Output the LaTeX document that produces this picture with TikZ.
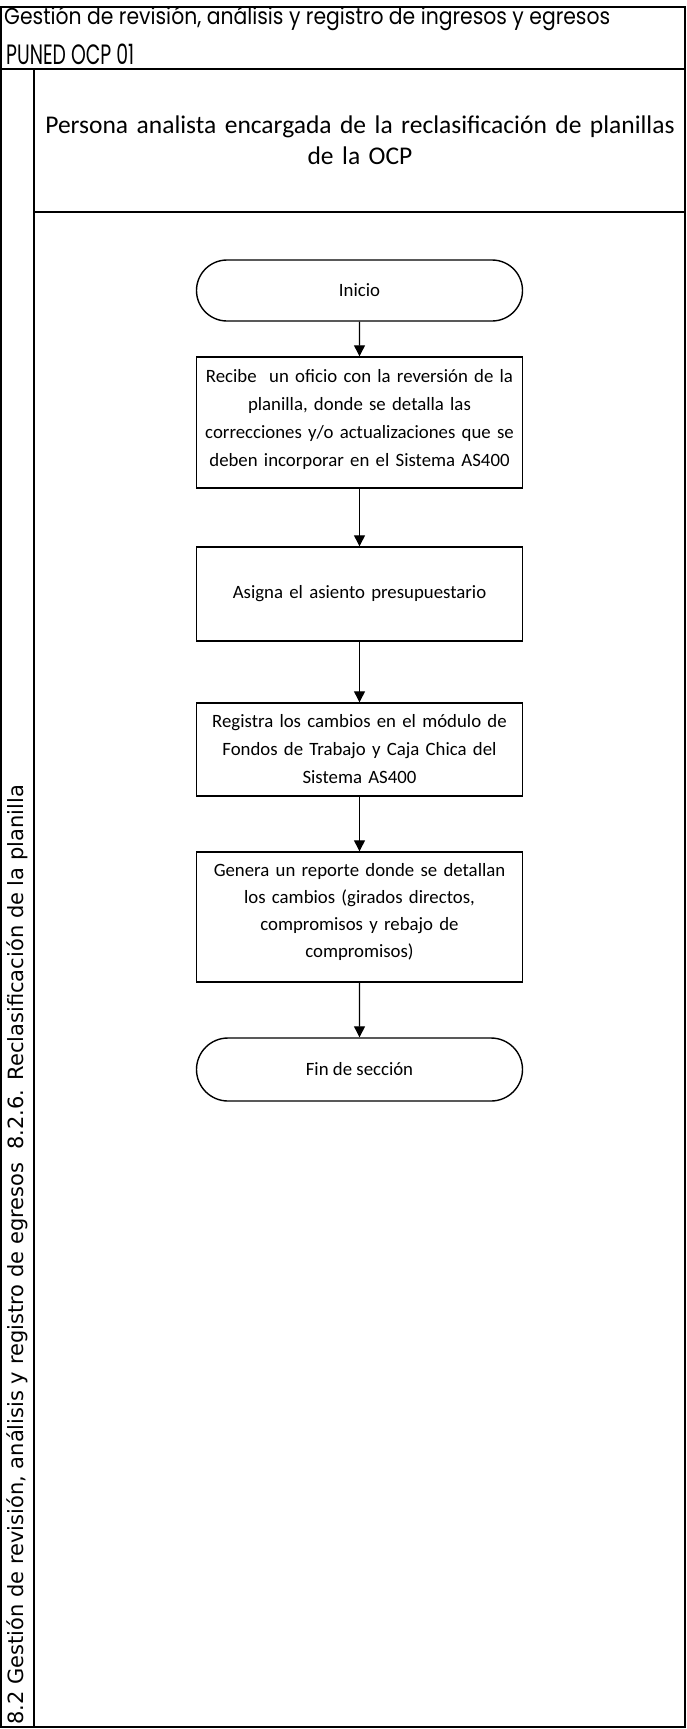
\documentclass[tikz,border=0pt]{standalone}
\usepackage{fontspec}
\setmainfont{Carlito}
\newfontfamily\titlefont{Poppins}
\newfontfamily\sidefont{DejaVu Sans}
\usetikzlibrary{arrows.meta,shapes.misc}
\newcommand{\padbottom}[1]{\par\nointerlineskip\hbox{\rule{0pt}{#1}}}
\begin{document}
\begin{tikzpicture}[x=1pt,y=-1pt,
  frame/.style={line width=1.6pt},
  proc/.style={draw,line width=1.4pt,minimum width=326pt,text width=320pt,align=center,inner sep=0pt,font=\fontsize{18.8}{28}\selectfont},
  term/.style={draw,line width=1.4pt,rounded rectangle,minimum width=326pt,inner sep=0pt,font=\fontsize{18.8}{28}\selectfont},
  flow/.style={line width=1.2pt,-{Triangle[width=11pt,length=11pt]}}]
\useasboundingbox (0,0) rectangle (686,1729);
\draw[frame] (1,7) rectangle (685,1727);
\draw[frame] (1,69) -- (685,69);
\draw[frame] (34,69) -- (34,1727);
\draw[frame] (34,212) -- (685,212);

\node[anchor=base west,inner sep=0pt] (t1) at (4,24) {\resizebox{606pt}{\height}{\titlefont\fontsize{23}{23}\selectfont Gestión de revisión, análisis y registro de ingresos y egresos}};
\node[anchor=base west,inner sep=0pt] (t2) at (6,64) {\resizebox{128pt}{\height}{\titlefont\fontsize{28}{28}\selectfont PUNED OCP 01}};

\node[text width=650pt,align=center,inner sep=0pt,font=\fontsize{25.5}{31}\selectfont] (lane) at (360,140) {Persona analista encargada de la reclasificación de planillas\\ de la OCP};

\node[rotate=90,anchor=west,inner sep=0pt,font=\sidefont\fontsize{21}{21}\selectfont] (pool) at (17,1725) {8.2 Gestión de revisión, análisis y registro de egresos\ \ 8.2.6. Reclasificación de la planilla};

\node[term,minimum height=61pt] (start) at (359.5,290.5) {Inicio};
\node[proc,minimum height=131pt] (b1) at (359.5,422.5) {Recibe\ \ un oficio con la reversión de la\\ planilla, donde se detalla las\\ correcciones y/o actualizaciones que se\\ deben incorporar en el Sistema AS400\padbottom{7pt}};
\node[proc,minimum height=94pt] (b2) at (359.5,594) {Asigna el asiento presupuestario};
\node[proc,minimum height=93pt] (b3) at (359.5,749.5) {Registra los cambios en el módulo de\\ Fondos de Trabajo y Caja Chica del\\ Sistema AS400};
\node[proc,minimum height=130pt,font=\fontsize{18.8}{27}\selectfont] (b4) at (359.5,917) {Genera un reporte donde se detallan\\ los cambios (girados directos,\\ compromisos y rebajo de\\ compromisos)\padbottom{11pt}};
\node[term,minimum height=63pt] (fin) at (359.5,1069.5) {Fin de sección};

\draw[flow] (start) -- (b1);
\draw[flow] (b1) -- (b2);
\draw[flow] (b2) -- (b3);
\draw[flow] (b3) -- (b4);
\draw[flow] (b4) -- (fin);
\end{tikzpicture}
\end{document}
